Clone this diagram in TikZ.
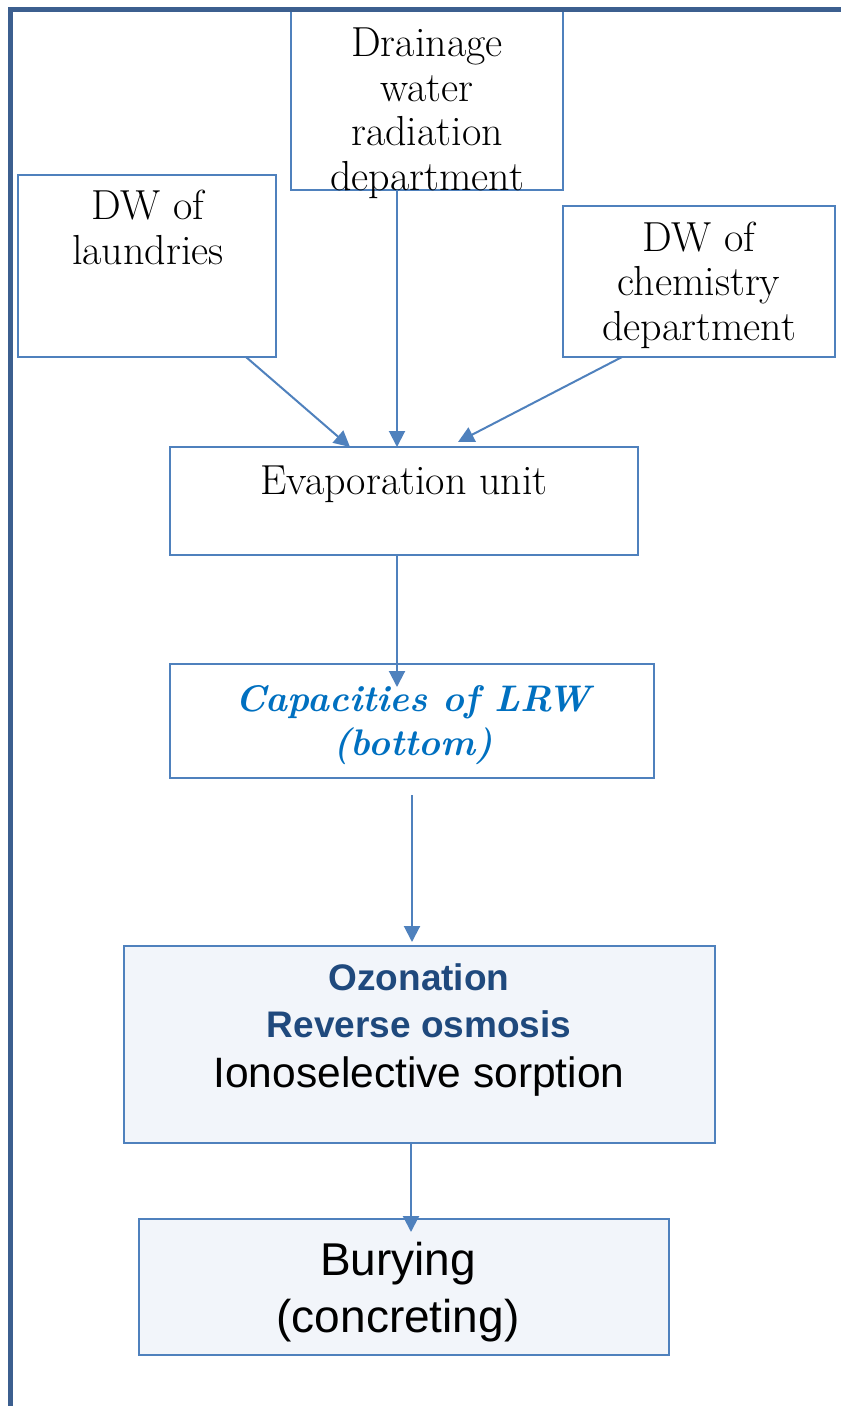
\documentclass[tikz,border=0pt]{standalone}
\usepackage{fontspec}
\newfontfamily\arialf{Liberation Sans}
\usetikzlibrary{arrows.meta,calc}
\definecolor{boxblue}{RGB}{79,129,189}
\definecolor{frameblue}{RGB}{60,95,143}
\definecolor{capblue}{RGB}{0,112,192}
\definecolor{ozoblue}{RGB}{31,73,125}
\definecolor{palefill}{RGB}{242,245,250}
\begin{document}
\begin{tikzpicture}[x=1pt,y=-1pt,
  box/.style={draw=boxblue,line width=2pt,inner sep=0pt,outer sep=0pt,fill=white},
  pale/.style={box,fill=palefill},
  arr/.style={draw=boxblue,line width=2pt,-{Triangle[length=16pt,width=16pt]}},
  serif/.style={inner sep=0pt,align=center,anchor=base,font=\fontsize{42}{44.5}\selectfont},
  sans/.style={inner sep=0pt,align=center,anchor=base}]
\useasboundingbox (0,0) rectangle (841,1406);
\fill[white] (0,0) rectangle (841,1406);
% boxes
\node[box,minimum width=272pt,minimum height=181pt] (drn) at (427,99.5) {};
\node[box,minimum width=258pt,minimum height=182pt] (lau) at (147,266) {};
\node[box,minimum width=272pt,minimum height=151pt] (chm) at (699,281.5) {};
\node[box,minimum width=468pt,minimum height=108pt] (eva) at (404,501) {};
\node[box,minimum width=484pt,minimum height=114pt] (cap) at (412,721) {};
\node[pale,minimum width=591pt,minimum height=197pt] (ozo) at (419.5,1044.5) {};
\node[pale,minimum width=530pt,minimum height=136pt] (bur) at (404,1287) {};
% texts (anchor = baseline of the last line)
\node[serif] (tdrn) at (427,190) {Drainage\\water\\radiation\\department};
\node[serif] (tlau) at (148,264) {DW of\\laundries};
\node[serif] (tchm) at (699,340) {DW of\\chemistry\\department};
\node[serif] (teva) at (404,494) {Evaporation unit};
\node[serif,font=\fontsize{37}{44}\selectfont\bfseries\itshape,text=capblue] (tcap) at (413,755) {Capacities of LRW\\(bottom)};
\node[sans,font=\fontsize{37}{47}\selectfont\arialf] (tozo) at (419,1087)
  {\textcolor{ozoblue}{\bfseries Ozonation}\\\textcolor{ozoblue}{\bfseries Reverse osmosis}\\[3pt]{\fontsize{42.5}{50}\selectfont Ionoselective sorption}};
\node[sans,font=\fontsize{46}{57}\selectfont\arialf] (tbur) at (398,1332) {Burying\\(concreting)};
% frame
\draw[frameblue,line width=5pt] (10.5,1406) -- (10.5,9) -- (841,9);
% connectors
\draw[arr] ($(lau.south west)+(228,0)$) -- ($(eva.north west)+(180,0)$);
\draw[arr] ($(drn.south west)+(106,0)$) -- ($(eva.north west)+(227,0)$);
\draw[arr] ($(chm.south west)+(59,0)$) -- ($(eva.north west)+(288,-5)$);
\draw[arr] ($(eva.south west)+(227,0)$) -- ($(cap.north west)+(227,23)$);
\draw[arr] ($(cap.south west)+(242,17)$) -- ($(ozo.north west)+(288,-4)$);
\draw[arr] ($(ozo.south west)+(287,0)$) -- ($(bur.north west)+(272,13)$);
\end{tikzpicture}
\end{document}
